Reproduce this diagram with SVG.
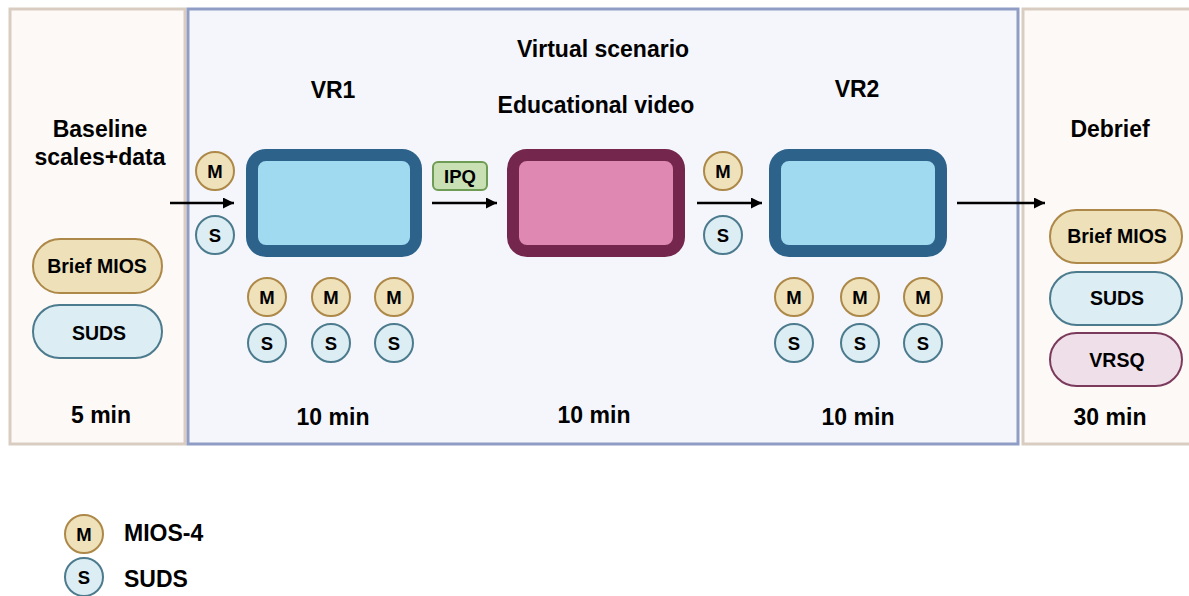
<svg xmlns="http://www.w3.org/2000/svg" width="1189" height="596" viewBox="0 0 1189 596">
  <defs>
    <marker id="arrowhead" markerUnits="userSpaceOnUse" markerWidth="11" markerHeight="11" refX="11" refY="5.5" orient="auto">
      <path d="M0,0 L11,5.5 L0,11 z" fill="#000"/>
    </marker>
    <style>
      text { font-family: "Liberation Sans", Arial, Helvetica, sans-serif; font-weight: bold; fill: #000; text-anchor: middle; }
      .title { font-size: 23px; }
      .pilltxt { font-size: 19.5px; }
      .badge { font-size: 18.5px; }
      .legend { font-size: 23px; text-anchor: start; }
      .side { fill: #fdf9f6; stroke: #d9cdc2; stroke-width: 3; }
      .scenario { fill: #f4f6fc; stroke: #8f9dc4; stroke-width: 3; }
      .vr { fill: #a0daf0; stroke: #2d628b; stroke-width: 12; }
      .video { fill: #df88b1; stroke: #74264d; stroke-width: 12; }
      .m { fill: #efe2ba; stroke: #ad8848; stroke-width: 2; }
      .s { fill: #dcedf4; stroke: #4c7b8d; stroke-width: 2; }
      .pill-mios { fill: #eee1b9; stroke: #ad8848; stroke-width: 2; }
      .pill-suds { fill: #dcedf4; stroke: #4c7b8d; stroke-width: 2; }
      .pill-vrsq { fill: #efdfe8; stroke: #7b3a5c; stroke-width: 2; }
      .ipq { fill: #c8e0b4; stroke: #6f9c54; stroke-width: 2; }
      .conn { stroke: #000; stroke-width: 2.5; fill: none; marker-end: url(#arrowhead); }
    </style>
  </defs>

  <rect width="1189" height="596" fill="#ffffff"/>

  <!-- phase panels -->
  <g id="baseline-panel">
    <rect class="side" x="10" y="9" width="175" height="435"/>
    <text class="title" x="100" y="137">Baseline</text>
    <text class="title" x="100" y="165">scales+data</text>
    <rect class="pill-mios" x="33" y="239" width="129" height="54" rx="27"/>
    <text class="pilltxt" x="97" y="273">Brief MIOS</text>
    <rect class="pill-suds" x="33" y="305" width="129" height="53" rx="26.5"/>
    <text class="pilltxt" x="99" y="340">SUDS</text>
    <text class="title" x="101" y="423">5 min</text>
  </g>

  <g id="scenario-panel">
    <rect class="scenario" x="188" y="9" width="830" height="435"/>
    <text class="title" x="603" y="57">Virtual scenario</text>
  </g>

  <g id="debrief-panel">
    <rect class="side" x="1023" y="9" width="170" height="435"/>
    <text class="title" x="1110" y="137">Debrief</text>
    <rect class="pill-mios" x="1050" y="210" width="132" height="53" rx="26.5"/>
    <text class="pilltxt" x="1117" y="243">Brief MIOS</text>
    <rect class="pill-suds" x="1050" y="272" width="132" height="53" rx="26.5"/>
    <text class="pilltxt" x="1117" y="305">SUDS</text>
    <rect class="pill-vrsq" x="1050" y="333" width="132" height="53" rx="26.5"/>
    <text class="pilltxt" x="1117" y="367">VRSQ</text>
    <text class="title" x="1110" y="425">30 min</text>
  </g>

  <!-- stage blocks -->
  <g id="vr1">
    <text class="title" x="333" y="98">VR1</text>
    <rect class="vr" x="252" y="155" width="164" height="96" rx="14"/>
    <text class="title" x="333" y="425">10 min</text>
  </g>

  <g id="educational-video">
    <text class="title" x="596" y="113">Educational video</text>
    <rect class="video" x="513" y="155" width="166" height="96" rx="14"/>
    <text class="title" x="594" y="423">10 min</text>
  </g>

  <g id="vr2">
    <text class="title" x="857" y="97">VR2</text>
    <rect class="vr" x="775" y="155" width="166" height="96" rx="14"/>
    <text class="title" x="858" y="425">10 min</text>
  </g>

  <g id="ipq">
    <rect class="ipq" x="433" y="162" width="54" height="28" rx="5"/>
    <text class="badge" x="460" y="183">IPQ</text>
  </g>

  <!-- MIOS-4 / SUDS measurement badges -->
  <g id="badges-pre-vr1">
    <circle class="m" cx="215" cy="171" r="19"/><text class="badge" x="215" y="178">M</text>
    <circle class="s" cx="215" cy="235" r="19"/><text class="badge" x="215" y="242">S</text>
  </g>
  <g id="badges-during-vr1">
    <circle class="m" cx="267" cy="297" r="19"/><text class="badge" x="267" y="304">M</text>
    <circle class="s" cx="267" cy="343" r="19"/><text class="badge" x="267" y="350">S</text>
    <circle class="m" cx="331" cy="297" r="19"/><text class="badge" x="331" y="304">M</text>
    <circle class="s" cx="331" cy="343" r="19"/><text class="badge" x="331" y="350">S</text>
    <circle class="m" cx="394" cy="297" r="19"/><text class="badge" x="394" y="304">M</text>
    <circle class="s" cx="394" cy="343" r="19"/><text class="badge" x="394" y="350">S</text>
  </g>
  <g id="badges-pre-vr2">
    <circle class="m" cx="723" cy="171" r="19"/><text class="badge" x="723" y="178">M</text>
    <circle class="s" cx="723" cy="235" r="19"/><text class="badge" x="723" y="242">S</text>
  </g>
  <g id="badges-during-vr2">
    <circle class="m" cx="794" cy="297" r="19"/><text class="badge" x="794" y="304">M</text>
    <circle class="s" cx="794" cy="343" r="19"/><text class="badge" x="794" y="350">S</text>
    <circle class="m" cx="860" cy="297" r="19"/><text class="badge" x="860" y="304">M</text>
    <circle class="s" cx="860" cy="343" r="19"/><text class="badge" x="860" y="350">S</text>
    <circle class="m" cx="923" cy="297" r="19"/><text class="badge" x="923" y="304">M</text>
    <circle class="s" cx="923" cy="343" r="19"/><text class="badge" x="923" y="350">S</text>
  </g>

  <!-- flow connectors -->
  <g id="connectors">
    <line class="conn" x1="170" y1="203" x2="234" y2="203"/>
    <line class="conn" x1="432" y1="203" x2="497" y2="203"/>
    <line class="conn" x1="697" y1="203" x2="762" y2="203"/>
    <line class="conn" x1="957" y1="203" x2="1045" y2="203"/>
  </g>

  <!-- legend -->
  <g id="legend">
    <circle class="m" cx="84" cy="534" r="19"/><text class="badge" x="84" y="541">M</text>
    <text class="legend" x="124" y="541">MIOS-4</text>
    <circle class="s" cx="84" cy="577" r="19"/><text class="badge" x="84" y="584">S</text>
    <text class="legend" x="124" y="587">SUDS</text>
  </g>
</svg>
